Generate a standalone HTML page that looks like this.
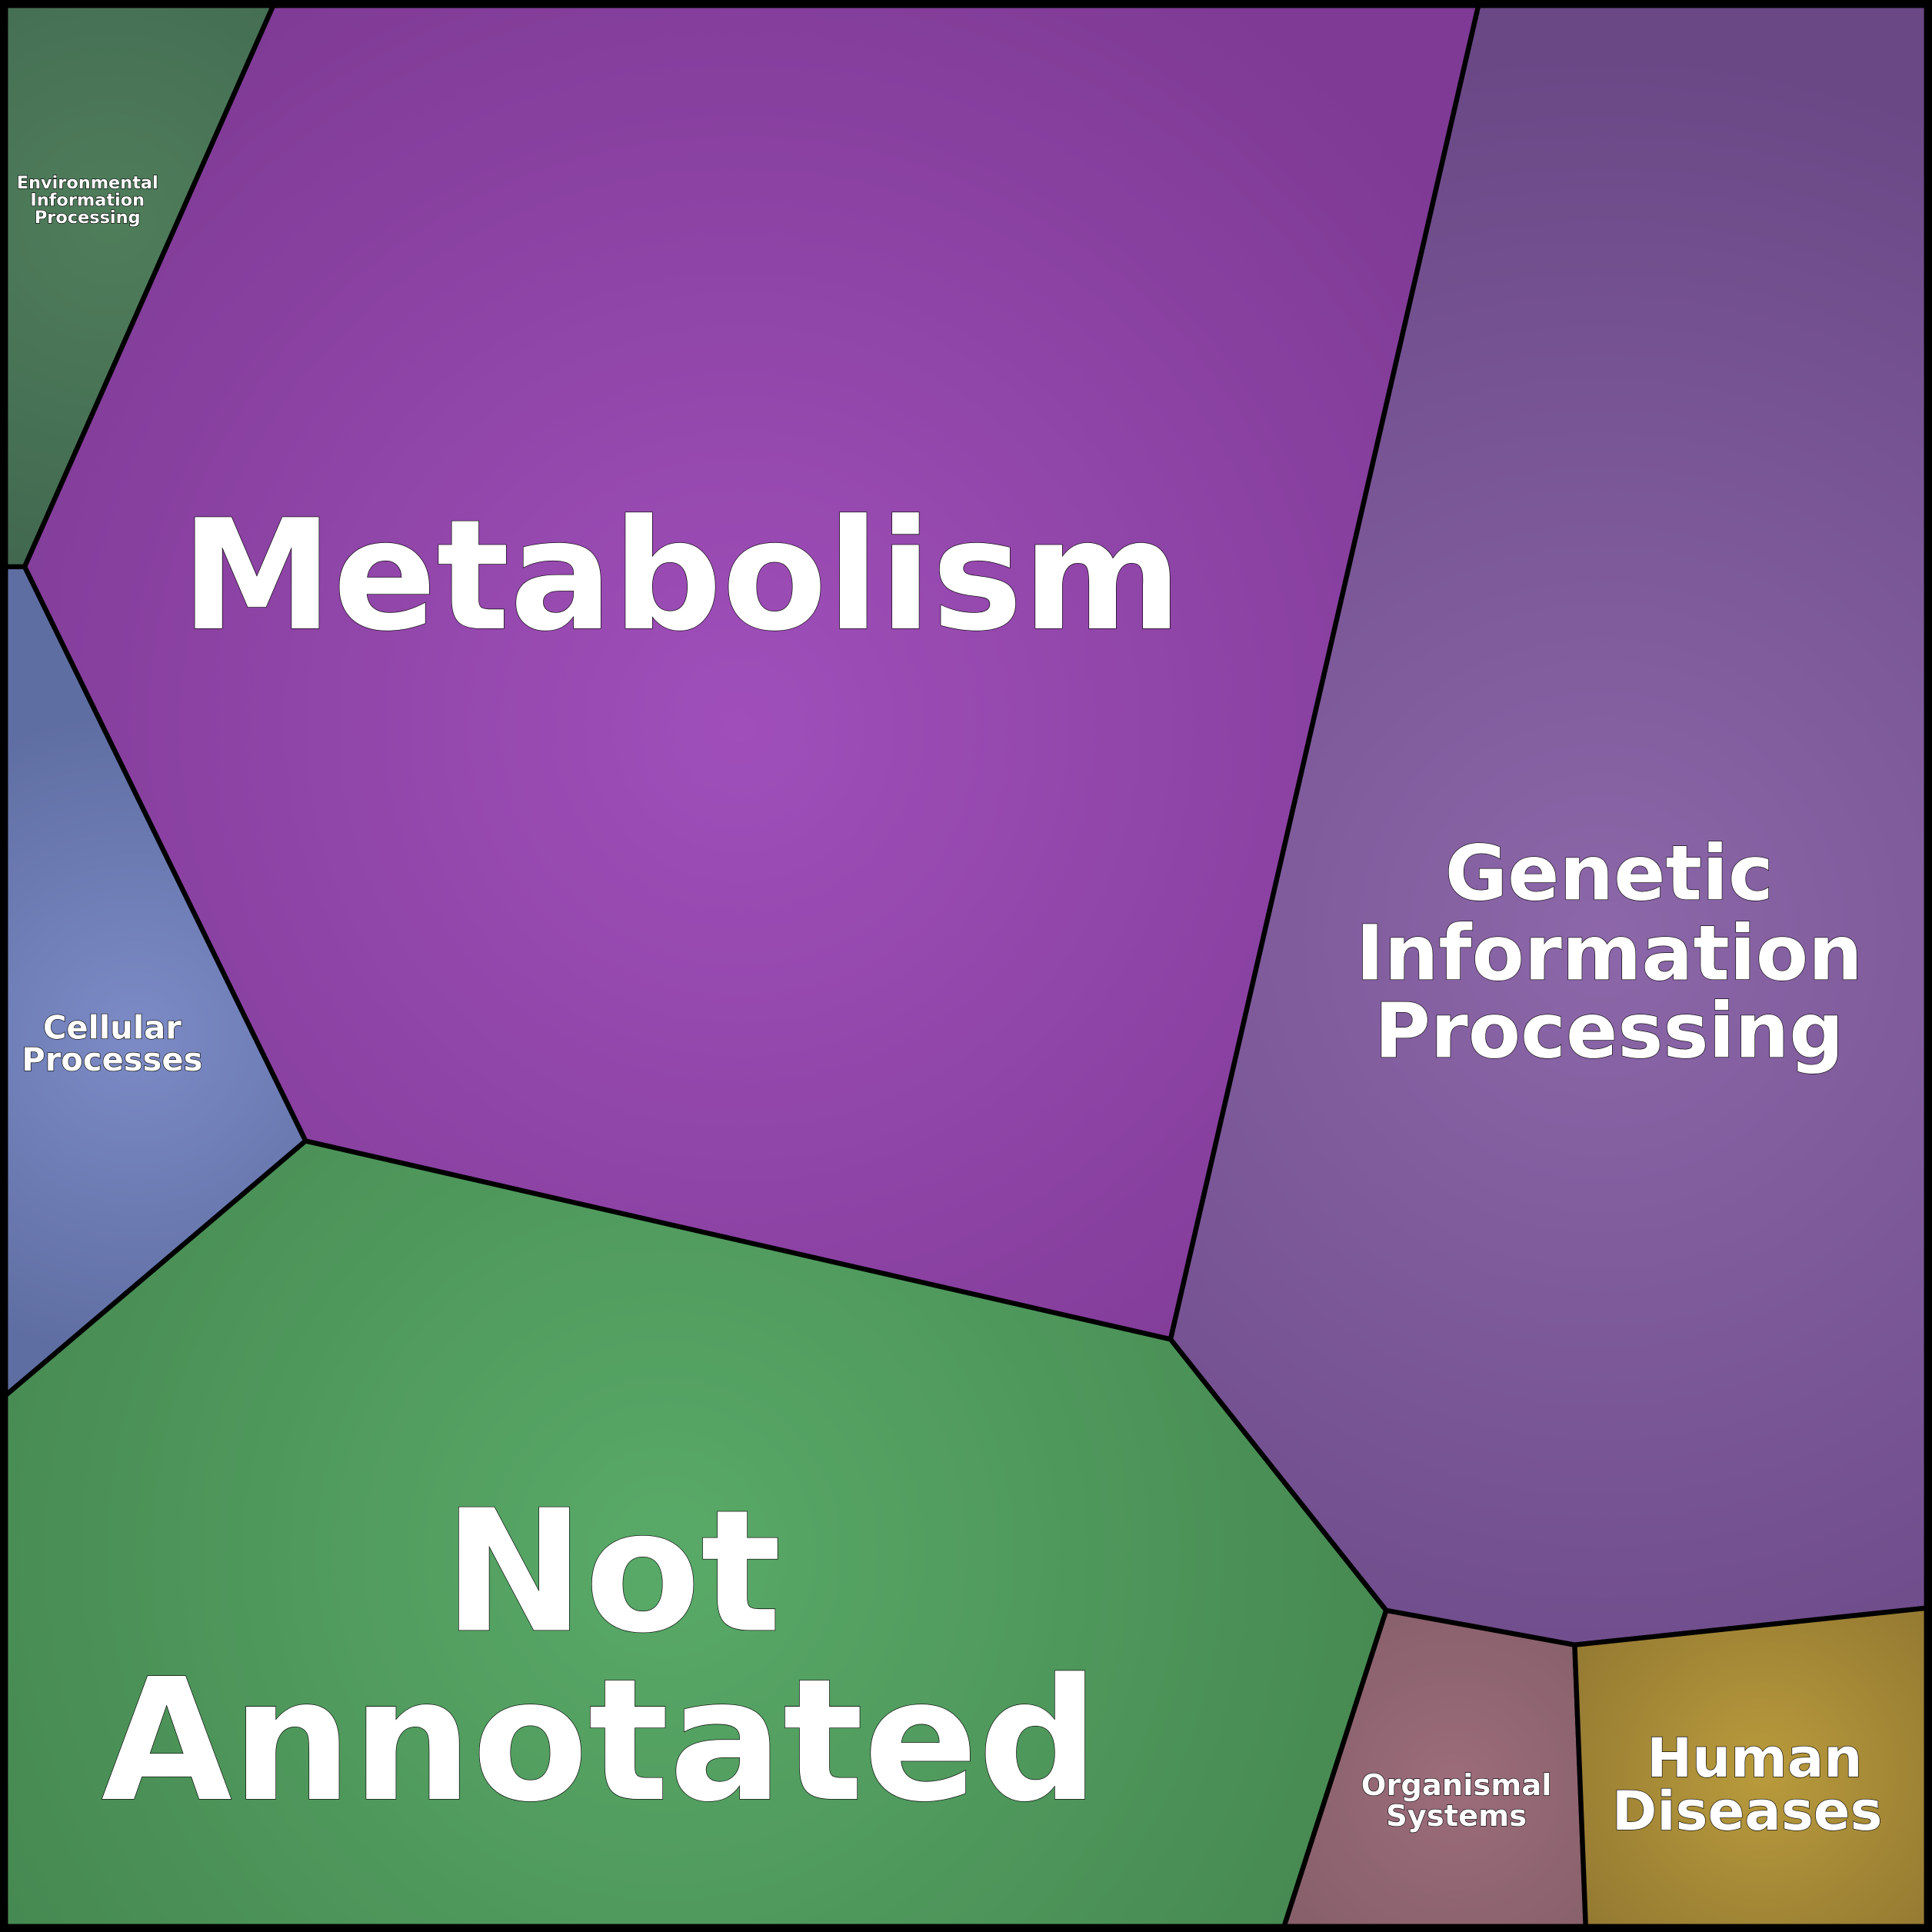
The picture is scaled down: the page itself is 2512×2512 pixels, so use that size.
<!DOCTYPE html>
<html><head><meta charset="utf-8"><style>
html,body{margin:0;padding:0;background:#000;}
svg{display:block;}
text{font-family:"DejaVu Sans","Liberation Sans",sans-serif;font-weight:bold;fill:#fff;stroke:#000;stroke-width:0.8;text-anchor:middle;paint-order:stroke;}
</style></head><body>
<svg width="2512" height="2512" viewBox="0 0 1568 1568" xmlns="http://www.w3.org/2000/svg">
<defs>
<radialGradient id="gm" cx="600" cy="590" r="720" gradientUnits="userSpaceOnUse"><stop offset="0" stop-color="#a04fba"/><stop offset="1" stop-color="#7e3a94"/></radialGradient>
<radialGradient id="gg" cx="1300" cy="760" r="720" gradientUnits="userSpaceOnUse"><stop offset="0" stop-color="#8c67a9"/><stop offset="1" stop-color="#6a4886"/></radialGradient>
<radialGradient id="gn" cx="540" cy="1260" r="680" gradientUnits="userSpaceOnUse"><stop offset="0" stop-color="#59aa68"/><stop offset="1" stop-color="#44854f"/></radialGradient>
<radialGradient id="ge" cx="90" cy="180" r="320" gradientUnits="userSpaceOnUse"><stop offset="0" stop-color="#4f7e5b"/><stop offset="1" stop-color="#40664f"/></radialGradient>
<radialGradient id="gc" cx="110" cy="840" r="260" gradientUnits="userSpaceOnUse"><stop offset="0" stop-color="#7c8bc6"/><stop offset="1" stop-color="#5f6ea2"/></radialGradient>
<radialGradient id="go" cx="1180" cy="1450" r="190" gradientUnits="userSpaceOnUse"><stop offset="0" stop-color="#9c6c7a"/><stop offset="1" stop-color="#845e69"/></radialGradient>
<radialGradient id="gh" cx="1430" cy="1440" r="220" gradientUnits="userSpaceOnUse"><stop offset="0" stop-color="#b99b3c"/><stop offset="1" stop-color="#8d7330"/></radialGradient>
</defs>
<rect width="1568" height="1568" fill="#000"/>
<g stroke="#000" stroke-width="4" stroke-linejoin="round">
<polygon fill="url(#ge)" points="4,4 222,4 20,460 4,460"/>
<polygon fill="url(#gm)" points="222,4 1200,4 950,1087 248,926 20,460"/>
<polygon fill="url(#gg)" points="1200,4 1564,4 1564,1305 1278,1335 1125,1307 950,1087"/>
<polygon fill="url(#gc)" points="4,460 20,460 248,926 4,1133"/>
<polygon fill="url(#gn)" points="4,1133 248,926 950,1087 1125,1307 1042,1564 4,1564"/>
<polygon fill="url(#go)" points="1125,1307 1278,1335 1287,1564 1042,1564"/>
<polygon fill="url(#gh)" points="1278,1335 1564,1305 1564,1564 1287,1564"/>
</g>
<rect x="3" y="3" width="1562" height="1562" fill="none" stroke="#000" stroke-width="7"/>
<text x="553" y="510" font-size="124" stroke-width="1.5">Metabolism</text>
<text x="1306" y="730" font-size="62">Genetic</text>
<text x="1306" y="795" font-size="62">Information</text>
<text x="1306" y="858" font-size="62">Processing</text>
<text x="497" y="1323" font-size="137" stroke-width="1.5">Not</text>
<text x="487" y="1460" font-size="137" stroke-width="1.5">Annotated</text>
<text x="91" y="843" font-size="26">Cellular</text>
<text x="91" y="869" font-size="26">Processes</text>
<text x="71" y="153" font-size="14" stroke-width="0.5">Environmental</text>
<text x="71" y="167" font-size="14" stroke-width="0.5">Information</text>
<text x="71" y="181" font-size="14" stroke-width="0.5">Processing</text>
<text x="1182" y="1457" font-size="24">Organismal</text>
<text x="1182" y="1482" font-size="24">Systems</text>
<text x="1424" y="1442" font-size="44">Human</text>
<text x="1418" y="1485" font-size="44">Diseases</text>
</svg>
</body></html>
